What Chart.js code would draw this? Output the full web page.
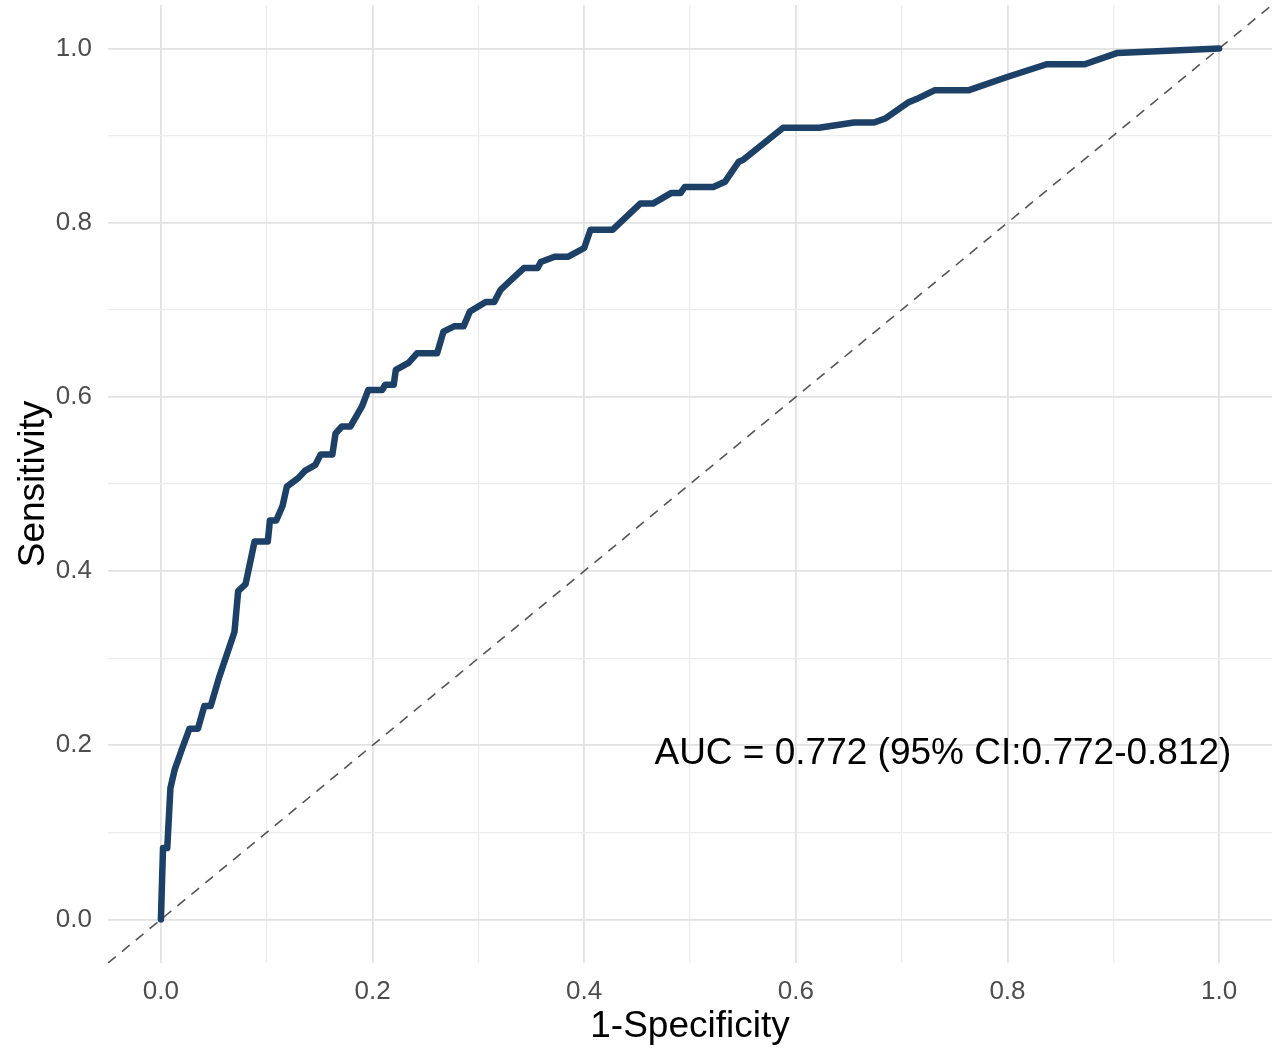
<!DOCTYPE html>
<html>
<head>
<meta charset="utf-8">
<script src="https://cdn.jsdelivr.net/npm/chart.js@4.4.1/dist/chart.umd.min.js"></script>
<style>
  html, body { margin: 0; padding: 0; background: #ffffff; }
  #wrap { width: 1280px; height: 1056px; }
</style>
</head>
<body>
<div id="wrap"><canvas id="roc-chart" width="1280" height="1056"></canvas></div>
<script>
// ROC curve: false positive rate vs. sensitivity
const fpr = [0, 0.002, 0.006, 0.009, 0.013, 0.020, 0.027, 0.035, 0.041, 0.047,
  0.055, 0.0695, 0.073, 0.080, 0.0885, 0.101, 0.103, 0.109, 0.115, 0.119,
  0.130, 0.136, 0.146, 0.151, 0.162, 0.165, 0.171, 0.179, 0.190, 0.196,
  0.209, 0.212, 0.220, 0.222, 0.234, 0.242, 0.261, 0.267, 0.277, 0.286,
  0.292, 0.307, 0.315, 0.321, 0.329, 0.343, 0.356, 0.359, 0.372, 0.385,
  0.400, 0.406, 0.427, 0.453, 0.465, 0.482, 0.491, 0.495, 0.522, 0.533,
  0.546, 0.550, 0.588, 0.622, 0.655, 0.674, 0.685, 0.706, 0.714, 0.731,
  0.763, 0.799, 0.837, 0.873, 0.904, 1.0];
const tpr = [0, 0.082, 0.082, 0.151, 0.172, 0.196, 0.219, 0.219, 0.245, 0.245,
  0.278, 0.330, 0.377, 0.385, 0.434, 0.434, 0.458, 0.458, 0.475, 0.497,
  0.507, 0.515, 0.522, 0.534, 0.534, 0.558, 0.566, 0.566, 0.589, 0.608,
  0.608, 0.614, 0.614, 0.631, 0.639, 0.650, 0.650, 0.675, 0.681, 0.681,
  0.698, 0.709, 0.709, 0.723, 0.732, 0.748, 0.748, 0.755, 0.761, 0.761,
  0.771, 0.792, 0.792, 0.822, 0.822, 0.834, 0.834, 0.841, 0.841, 0.847,
  0.870, 0.872, 0.909, 0.909, 0.915, 0.915, 0.920, 0.938, 0.942, 0.952,
  0.952, 0.967, 0.982, 0.982, 0.995, 1.0];

// chance line end points
const refX = [-0.05, 1.05];
const refY = [-0.05, 1.05];

// grid positions (every 0.1, labels on every 0.2)
const tickValues = [0, 0.1, 0.2, 0.3, 0.4, 0.5, 0.6, 0.7, 0.8, 0.9, 1.0];

const aucLabel = 'AUC = 0.772 (95% CI:0.772-0.812)';

const FONT = "'Liberation Sans', Arial, Helvetica, sans-serif";

function isMajor(v) {
  return Math.round(v * 10) % 2 === 0;
}

function setTicks(axis) {
  axis.ticks = tickValues.map(function (v) { return { value: v }; });
}

const aucText = {
  id: 'aucText',
  afterDatasetsDraw: function (chart) {
    const c = chart.ctx;
    const xs = chart.scales.x;
    const ys = chart.scales.y;
    c.save();
    c.font = '37px ' + FONT;
    c.fillStyle = '#000000';
    c.textAlign = 'center';
    c.textBaseline = 'middle';
    c.fillText(aucLabel, xs.getPixelForValue(0.739), ys.getPixelForValue(0.19));
    c.restore();
  }
};

const gridOpts = {
  drawTicks: false,
  color: function (ctx) { return isMajor(ctx.tick.value) ? '#e2e2e2' : '#ececec'; },
  lineWidth: function (ctx) { return isMajor(ctx.tick.value) ? 1.8 : 1.2; }
};

const ctx = document.getElementById('roc-chart').getContext('2d');

new Chart(ctx, {
  type: 'line',
  data: {
    datasets: [
      {
        label: 'ROC',
        data: fpr.map(function (x, i) { return { x: x, y: tpr[i] }; }),
        borderColor: '#1c4066',
        borderWidth: 6.5,
        borderJoinStyle: 'round',
        borderCapStyle: 'round',
        pointRadius: 0,
        tension: 0,
        fill: false,
        order: 0
      },
      {
        label: 'Reference',
        data: refX.map(function (x, i) { return { x: x, y: refY[i] }; }),
        borderColor: '#555555',
        borderWidth: 1.6,
        borderDash: [10, 8],
        pointRadius: 0,
        fill: false,
        order: 1
      }
    ]
  },
  options: {
    responsive: false,
    animation: false,
    layout: { padding: { top: 5, right: 8, left: 0, bottom: 0 } },
    plugins: {
      legend: { display: false },
      tooltip: { enabled: false }
    },
    scales: {
      x: {
        type: 'linear',
        min: -0.05,
        max: 1.05,
        afterBuildTicks: setTicks,
        afterFit: function (axis) {
          axis.height = 93;
          axis.paddingLeft = 0;
          axis.paddingRight = 0;
        },
        border: { display: false },
        grid: gridOpts,
        ticks: {
          padding: 13,
          color: '#4d4d4d',
          font: { family: FONT, size: 26 },
          maxRotation: 0,
          autoSkip: false,
          callback: function (v) { return isMajor(v) ? v.toFixed(1) : ''; }
        },
        title: {
          display: true,
          text: '1-Specificity',
          color: '#000000',
          font: { family: FONT, size: 37 },
          padding: { top: 0, bottom: 7 }
        }
      },
      y: {
        type: 'linear',
        min: -0.05,
        max: 1.05,
        afterBuildTicks: setTicks,
        afterFit: function (axis) {
          axis.width = 108;
          axis.paddingTop = 0;
          axis.paddingBottom = 0;
        },
        border: { display: false },
        grid: gridOpts,
        ticks: {
          padding: 16,
          color: '#4d4d4d',
          font: { family: FONT, size: 26 },
          autoSkip: false,
          callback: function (v) { return isMajor(v) ? v.toFixed(1) : ''; }
        },
        title: {
          display: true,
          text: 'Sensitivity',
          color: '#000000',
          font: { family: FONT, size: 37 },
          padding: { top: 12, bottom: 0 }
        }
      }
    }
  },
  plugins: [aucText]
});
</script>
</body>
</html>
